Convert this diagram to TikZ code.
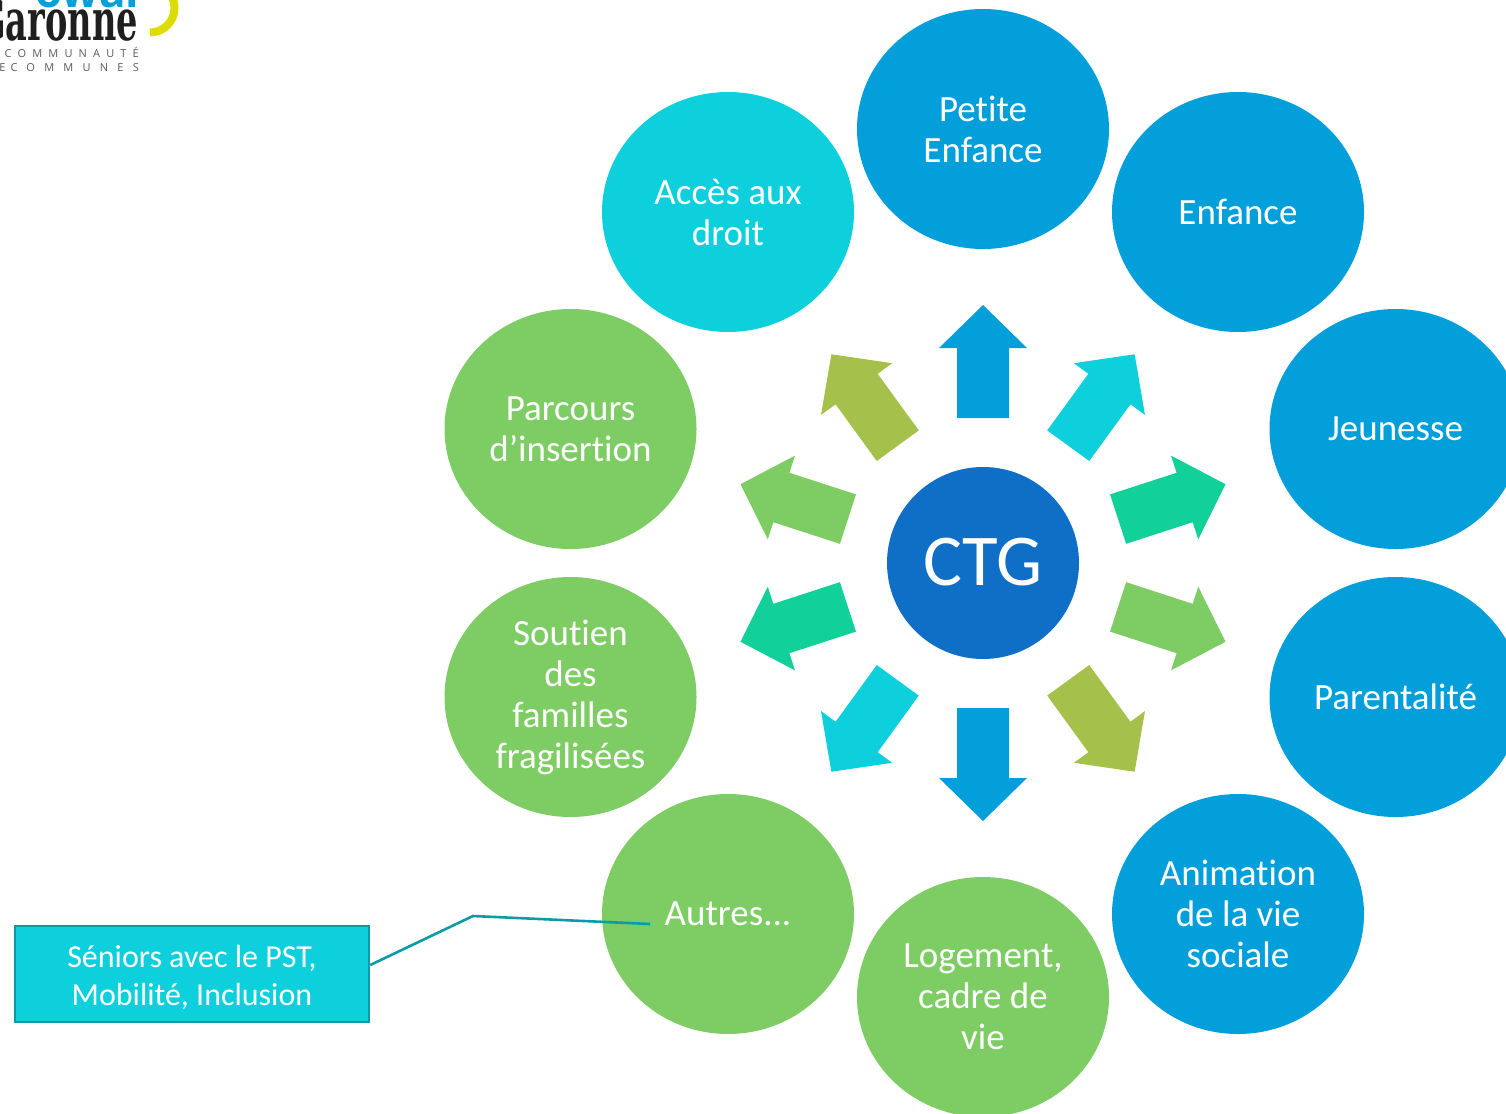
\documentclass[tikz,border=0pt]{standalone}
\usetikzlibrary{shapes.geometric}
\usepackage{fontspec}
\setmainfont{Carlito}[RawFeature=-liga]
\newfontfamily\logoslab{DejaVu Serif}
\newfontfamily\logosans{Open Sans}
\newfontfamily\logospaced{Open Sans}[LetterSpace=56]
\newfontfamily\logowide{Open Sans}[LetterSpace=84]
\definecolor{cblue}{HTML}{029FDB}
\definecolor{ccyan}{HTML}{0DD0DC}
\definecolor{cteal}{HTML}{12D09A}
\definecolor{cgreen}{HTML}{7DCC64}
\definecolor{colive}{HTML}{A6C14B}
\definecolor{cdeep}{HTML}{0F6FC6}
\definecolor{cline}{HTML}{0A9CA6}
\definecolor{cyellow}{HTML}{DCDC00}
\tikzset{
  theme/.style={ellipse,minimum width=252pt,minimum height=240pt,inner sep=0pt,align=center,text=white,
    font=\fontsize{37}{41}\selectfont},
  bluetheme/.style={theme,fill=cblue},
  cyantheme/.style={theme,fill=ccyan},
  greentheme/.style={theme,fill=cgreen},
  hub/.style={circle,minimum size=192pt,inner sep=0pt,fill=cdeep,text=white,font=\fontsize{73}{80}\selectfont},
  notebox/.style={rectangle,draw=cline,line width=2.5pt,fill=ccyan,text=white,align=center,
    minimum width=354pt,minimum height=96pt,inner sep=0pt,font=\fontsize{32}{38}\selectfont},
  callout/.style={draw=cline,line width=2.6pt},
  logosmall/.style={anchor=base east,inner sep=0pt,text=black!65,font=\fontsize{11}{11}\selectfont},
}
% #1 angle, #2 colour, #3 inward radial offset
\newcommand{\spoke}[3]{%
  \begin{scope}[shift={(hub.center)},rotate=#1,yshift=-#3pt]
  \fill[#2] (-26,-145) -- (-26,-215) -- (-44,-215) -- (0,-258) -- (44,-215) -- (26,-215) -- (26,-145) -- cycle;
  \end{scope}}
\begin{document}
\begin{tikzpicture}[x=1pt,y=-1pt]
\useasboundingbox (0,0) rectangle (1506,1113);
\clip (0,0) rectangle (1506,1113);
% logo
\node[anchor=base west,inner sep=0pt,text=cblue,font=\logosans\bfseries\fontsize{44}{44}\selectfont] (logotop) at (35,8) {owar};
\node[anchor=base east,inner sep=0pt,text=black!88,font=\logoslab\bfseries\fontsize{46}{46}\selectfont] (logoname) at (138,41) {\scalebox{0.73}[1.25]{Garonne}};
\node[logosmall] (logoa) at (139,58) {\logospaced COMMUNAUTÉ};
\node[logosmall] (logob) at (139,72) {\logowide E\hspace{5pt}COMMUNES};
\draw[cyellow,line width=8pt] (150,32.5) arc[start angle=-90,end angle=30,radius=24.5pt];
% themes
\node[bluetheme] (petite) at (983,129) {Petite\\Enfance};
\node[bluetheme] (enfance) at (1238,212) {Enfance};
\node[bluetheme] (jeunesse) at (1395.5,429) {Jeunesse};
\node[bluetheme] (parent) at (1395.5,697) {Parentalité};
\node[bluetheme] (anim) at (1238,914) {Animation\\de la vie\\sociale};
\node[greentheme] (logement) at (983,997) {Logement,\\cadre de\\vie};
\node[greentheme] (autres) at (728,914) {Autres...};
\node[greentheme] (soutien) at (570.5,697) {Soutien\\des\\familles\\fragilisées};
\node[greentheme] (parcours) at (570.5,429) {Parcours\\d’insertion};
\node[cyantheme] (acces) at (728,212) {Accès aux\\droit};
\node[hub] (hub) at (983,563) {\raisebox{2pt}{CTG}};
% spokes (angle counter-clockwise from north)
\spoke{0}{cblue}{0}
\spoke{-36}{ccyan}{0}
\spoke{-72}{cteal}{3}
\spoke{-108}{cgreen}{3}
\spoke{-144}{colive}{0}
\spoke{180}{cblue}{0}
\spoke{144}{ccyan}{0}
\spoke{108}{cteal}{3}
\spoke{72}{cgreen}{3}
\spoke{36}{colive}{0}
% note
\node[notebox] (note) at (192,974) {\rule{0pt}{29pt}Séniors avec le PST,\\Mobilité, Inclusion};
\coordinate (elbow) at (473,916);
\coordinate (noteout) at (note.east |- 0,965);
\coordinate (autresin) at (650,924);
\draw[callout] (noteout) -- (elbow) -- (autresin);
\end{tikzpicture}
\end{document}
